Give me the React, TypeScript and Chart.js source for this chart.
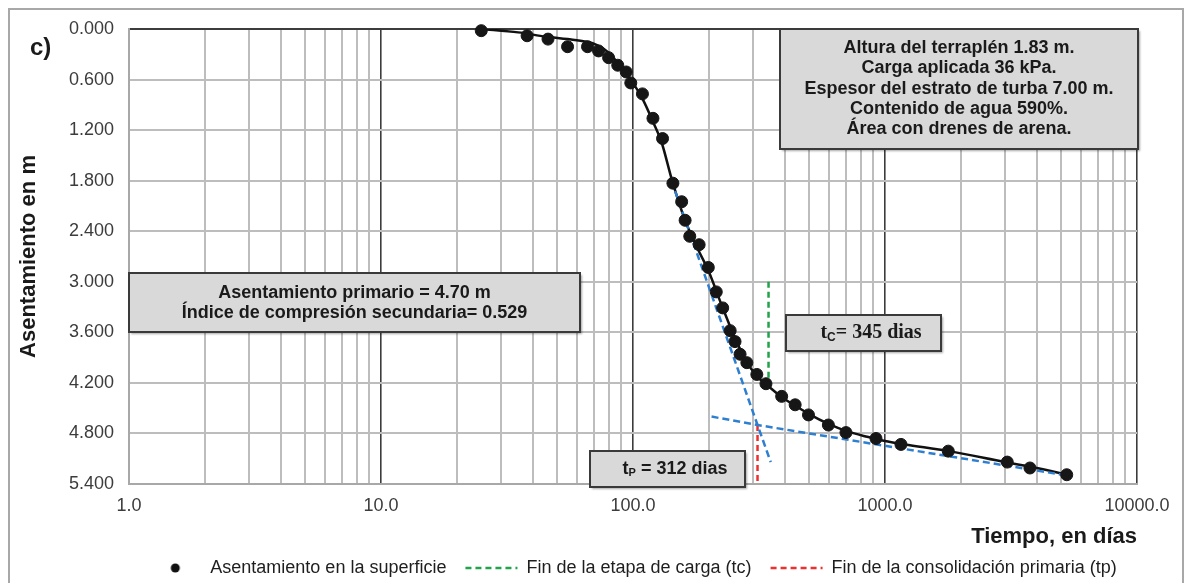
import { useEffect, useRef } from 'react';
import { Chart, registerables } from 'chart.js';

Chart.register(...registerables);

const SANS = '"Liberation Sans", Arial, Helvetica, sans-serif';
const SERIF = '"Liberation Serif", "Times New Roman", serif';

// Surface settlement readings (time in days, settlement in m)
const timeDays = [25, 38, 46, 55, 66, 73, 80, 87, 94, 98, 109, 120, 131, 144, 156, 161, 168, 183, 199, 214, 227, 243, 254, 266, 283, 310, 337, 389, 440, 497, 596, 700, 921, 1157, 1783, 3056, 3760, 5262];
const settlementM = [0.02, 0.08, 0.12, 0.21, 0.21, 0.26, 0.34, 0.43, 0.51, 0.64, 0.77, 1.06, 1.30, 1.83, 2.05, 2.27, 2.46, 2.56, 2.83, 3.12, 3.31, 3.58, 3.71, 3.86, 3.96, 4.10, 4.21, 4.36, 4.46, 4.58, 4.70, 4.79, 4.86, 4.93, 5.01, 5.14, 5.21, 5.29];

// Smoothed settlement-time curve
const curveDays = [25, 35, 45, 55, 65, 72, 80, 88, 95, 100, 110, 120, 130, 143, 160, 180, 200, 225, 250, 280, 310, 345, 390, 440, 500, 600, 700, 850, 1000, 1200, 1800, 3000, 4000, 5300];
const curveM = [0.00, 0.04, 0.09, 0.12, 0.15, 0.19, 0.28, 0.42, 0.55, 0.64, 0.85, 1.10, 1.35, 1.80, 2.25, 2.60, 2.88, 3.28, 3.62, 3.93, 4.12, 4.24, 4.37, 4.47, 4.57, 4.69, 4.77, 4.84, 4.89, 4.93, 5.01, 5.14, 5.21, 5.29];

// Casagrande construction
const primarySettlementM = 4.70;
const secondaryIndex = 0.529;
const tcDays = 345;
const tpDays = 312;
const primaryTangentDays = [142, tpDays, 352];
const primaryTangentM = [1.80, primarySettlementM, 5.14];
const secondaryTangentDays = [205, tpDays, 5300];
const secondaryTangentM = [4.60, primarySettlementM, 5.30];
const tcLineM = [3.0, 4.22];
const tpLineM = [primarySettlementM, 5.38];

// Axes
const xDecades = [1, 10, 100, 1000, 10000];
const xDecadeLabels = ['1.0', '10.0', '100.0', '1000.0', '10000.0'];
const yTicks = [0, 0.6, 1.2, 1.8, 2.4, 3.0, 3.6, 4.2, 4.8, 5.4];

const infoLines = [
  'Altura del terraplén 1.83 m.',
  'Carga aplicada 36 kPa.',
  'Espesor del estrato de turba 7.00 m.',
  'Contenido de agua 590%.',
  'Área con drenes de arena.',
];
const resultLines = [
  `Asentamiento primario = ${primarySettlementM.toFixed(2)} m`,
  `Índice de compresión secundaria= ${secondaryIndex.toFixed(3)}`,
];

const xGridValues: number[] = [];
xDecades.forEach((d, i) => {
  if (i === xDecades.length - 1) { xGridValues.push(d); return; }
  for (let k = 1; k <= 9; k++) xGridValues.push(d * k);
});

const pts = (xs: number[], ys: number[]) => xs.map((x, i) => ({ x, y: ys[i] }));
const isDecade = (v: number) => Math.abs(Math.log10(v) - Math.round(Math.log10(v))) < 1e-9;

function drawBox(ctx: CanvasRenderingContext2D, x: number, y: number, w: number, h: number) {
  ctx.save();
  ctx.shadowColor = 'rgba(0,0,0,0.35)';
  ctx.shadowOffsetX = 2;
  ctx.shadowOffsetY = 2;
  ctx.shadowBlur = 2;
  ctx.fillStyle = '#d9d9d9';
  ctx.fillRect(x, y, w, h);
  ctx.restore();
  ctx.save();
  ctx.strokeStyle = '#3a3a3a';
  ctx.lineWidth = 2;
  ctx.strokeRect(x, y, w, h);
  ctx.restore();
}

function drawSubscripted(ctx: CanvasRenderingContext2D, cx: number, cy: number, base: string, sub: string, rest: string, font: string, subFont: string, drop: number) {
  ctx.save();
  ctx.fillStyle = '#1a1a1a';
  ctx.textAlign = 'left';
  ctx.textBaseline = 'middle';
  ctx.font = font;
  const wb = ctx.measureText(base).width;
  const wr = ctx.measureText(rest).width;
  ctx.font = subFont;
  const ws = ctx.measureText(sub).width;
  let x = cx - (wb + ws + wr) / 2;
  ctx.font = font;
  ctx.fillText(base, x, cy);
  x += wb;
  ctx.font = subFont;
  ctx.fillText(sub, x, cy + drop);
  x += ws;
  ctx.font = font;
  ctx.fillText(rest, x, cy);
  ctx.restore();
}

const notesPlugin = {
  id: 'notes',
  afterDatasetsDraw(chart: any) {
    const { ctx, chartArea: ca } = chart;
    ctx.save();
    ctx.fillStyle = '#1a1a1a';
    ctx.textBaseline = 'middle';

    // panel tag
    ctx.font = `bold 24px ${SANS}`;
    ctx.textAlign = 'left';
    ctx.fillText('c)', ca.left - 99, ca.top + 19);

    // embankment data
    const ix = ca.right - 357;
    drawBox(ctx, ix, ca.top, 358, 120);
    ctx.fillStyle = '#1a1a1a';
    ctx.font = `bold 18px ${SANS}`;
    ctx.textAlign = 'center';
    infoLines.forEach((t, i) => ctx.fillText(t, ix + 179, ca.top + 19 + i * 20.3));

    // results
    drawBox(ctx, ca.left, ca.top + 244, 451, 59);
    ctx.fillStyle = '#1a1a1a';
    ctx.font = `bold 18px ${SANS}`;
    resultLines.forEach((t, i) => ctx.fillText(t, ca.left + 225.5, ca.top + 264 + i * 20));

    // tc
    drawBox(ctx, ca.left + 657, ca.top + 286, 155, 36);
    drawSubscripted(ctx, ca.left + 742, ca.top + 304, 't', 'C', `= ${tcDays} dias`, `bold 20px ${SERIF}`, `bold 12px ${SANS}`, 5);

    // tp
    drawBox(ctx, ca.left + 461, ca.top + 422, 155, 36);
    drawSubscripted(ctx, ca.left + 546, ca.top + 440, 't', 'P', ` = ${tpDays} dias`, `bold 18px ${SANS}`, `bold 11px ${SANS}`, 4);
    ctx.restore();
  },
};

function makeDot() {
  const c = document.createElement('canvas');
  c.width = 12;
  c.height = 12;
  const g = c.getContext('2d')!;
  g.fillStyle = '#111';
  g.beginPath();
  g.arc(6, 6, 4.5, 0, Math.PI * 2);
  g.fill();
  return c;
}

export default function App() {
  const ref = useRef<HTMLCanvasElement>(null);

  useEffect(() => {
    const canvas = ref.current!;
    Chart.defaults.font.family = SANS;
    const dot = makeDot();
    const gridGray = '#bdbdbd';
    const gridDark = '#3c3c3c';
    const tickColor = '#3c3c3c';

    const chart = new Chart(canvas, {
      type: 'line',
      data: {
        datasets: [
          {
            label: 'Asentamiento en la superficie',
            data: pts(timeDays, settlementM),
            showLine: false,
            pointRadius: 6,
            pointHoverRadius: 6,
            pointBackgroundColor: '#161616',
            pointBorderColor: '#161616',
            borderColor: '#161616',
            clip: false,
            order: 0,
            inLegend: true,
          },
          {
            label: 'Fin de la etapa de carga (tc)',
            data: [{ x: tcDays, y: tcLineM[0] }, { x: tcDays, y: tcLineM[1] }],
            borderColor: '#22a24a',
            borderWidth: 2.5,
            borderDash: [6, 4],
            pointRadius: 0,
            order: 2,
            inLegend: true,
          },
          {
            label: 'Fin de la consolidación primaria (tp)',
            data: [{ x: tpDays, y: tpLineM[0] }, { x: tpDays, y: tpLineM[1] }],
            borderColor: '#ee2f2f',
            borderWidth: 2.5,
            borderDash: [6, 4],
            pointRadius: 0,
            order: 2,
            inLegend: true,
          },
          {
            label: 'Curva de asentamiento',
            data: pts(curveDays, curveM),
            borderColor: '#111',
            borderWidth: 2.5,
            pointRadius: 0,
            cubicInterpolationMode: 'monotone',
            order: 3,
          },
          {
            label: 'Tangente primaria',
            data: pts(primaryTangentDays, primaryTangentM),
            borderColor: '#2f7fd1',
            borderWidth: 2.5,
            borderDash: [7, 4],
            pointRadius: 0,
            order: 1,
          },
          {
            label: 'Tangente secundaria',
            data: pts(secondaryTangentDays, secondaryTangentM),
            borderColor: '#2f7fd1',
            borderWidth: 2.5,
            borderDash: [7, 4],
            pointRadius: 0,
            order: 1,
          },
        ] as any,
      },
      options: {
        responsive: false,
        animation: false,
        events: [],
        layout: { padding: { top: 19, right: 45, left: 0, bottom: 13 } },
        scales: {
          x: {
            type: 'logarithmic',
            position: 'bottom',
            min: 1,
            max: 10000,
            afterBuildTicks: (s: any) => {
              s.ticks = xGridValues.map((v) => ({ value: v }));
            },
            afterFit: (s: any) => {
              s.height = 56;
            },
            ticks: {
              autoSkip: false,
              maxRotation: 0,
              padding: 11,
              color: tickColor,
              font: { size: 18 },
              callback: (v: any) => {
                const i = xDecades.indexOf(Number(v));
                return i >= 0 ? xDecadeLabels[i] : '';
              },
            },
            grid: {
              drawTicks: false,
              lineWidth: (c: any) => (c.tick && isDecade(c.tick.value) && c.tick.value > 1 ? 1.6 : 2),
              color: (c: any) => {
                const v = c.tick ? c.tick.value : 0;
                if (v === 1) return '#a8a8a8';
                return isDecade(v) ? gridDark : gridGray;
              },
            },
            border: { display: true, color: '#a8a8a8', width: 2 },
            title: {
              display: true,
              text: 'Tiempo, en días',
              align: 'end',
              color: '#1a1a1a',
              font: { size: 22, weight: 'bold' },
              padding: { top: 0, bottom: -10 },
            },
          },
          y: {
            type: 'linear',
            reverse: true,
            min: 0,
            max: 5.4,
            afterBuildTicks: (s: any) => {
              s.ticks = yTicks.map((v) => ({ value: v }));
            },
            afterFit: (s: any) => {
              s.width = 119;
              s.paddingTop = 0;
              s.paddingBottom = 0;
            },
            ticks: {
              padding: 15,
              color: tickColor,
              font: { size: 18 },
              callback: (v: any) => Number(v).toFixed(3),
            },
            grid: {
              drawTicks: false,
              lineWidth: 2,
              color: (c: any) => (c.tick && c.tick.value === 0 ? gridDark : gridGray),
            },
            border: { display: true, color: '#a8a8a8', width: 2 },
            title: {
              display: true,
              text: 'Asentamiento en m',
              color: '#1a1a1a',
              font: { size: 22, weight: 'bold' },
              padding: { top: 6, bottom: 0 },
            },
          },
        },
        plugins: {
          tooltip: { enabled: false },
          legend: {
            position: 'bottom',
            fullSize: false,
            labels: {
              usePointStyle: true,
              pointStyleWidth: 52,
              padding: 19,
              color: '#1e1e1e',
              font: { size: 18 },
              generateLabels: (ch: any) =>
                ch.data.datasets
                  .map((ds: any, i: number) => ({ ds, i }))
                  .filter(({ ds }: any) => ds.inLegend)
                  .map(({ ds, i }: any) => ({
                    text: ds.label,
                    datasetIndex: i,
                    hidden: false,
                    fontColor: '#1e1e1e',
                    fillStyle: ds.borderColor,
                    strokeStyle: ds.borderColor,
                    lineWidth: ds.showLine === false ? 0 : 2.5,
                    lineDash: ds.borderDash || [],
                    pointStyle: ds.showLine === false ? dot : 'line',
                  })),
            },
          },
        },
      } as any,
      plugins: [notesPlugin],
    });

    return () => chart.destroy();
  }, []);

  return (
    <div
      style={{
        position: 'absolute',
        left: 8,
        top: 8,
        width: 1176,
        height: 575,
        boxSizing: 'border-box',
        borderTop: '2px solid #a8a8a8',
        borderLeft: '2px solid #a8a8a8',
        borderRight: '2px solid #a8a8a8',
        overflow: 'hidden',
        background: '#fff',
      }}
    >
      <canvas ref={ref} width={1172} height={590} style={{ display: 'block' }} />
    </div>
  );
}
